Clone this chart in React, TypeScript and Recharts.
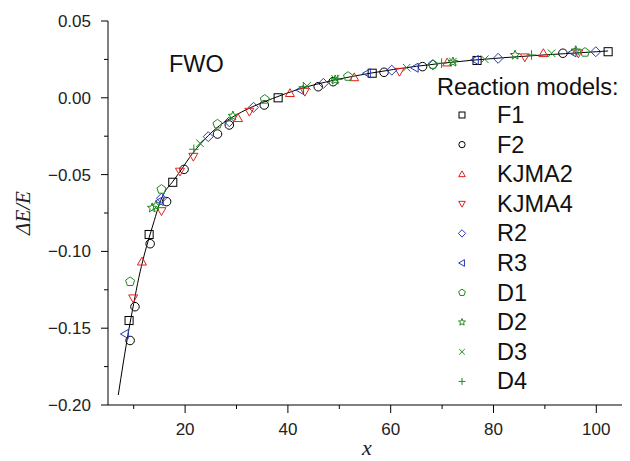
import React from 'react';
import { ComposedChart, Scatter, Line, XAxis, YAxis } from 'recharts';

// values
const FIT = [
  { x: 7.0, y: -0.1935 }, { x: 8.0, y: -0.172 }, { x: 9.0, y: -0.152 }, { x: 10.0, y: -0.134 },
  { x: 11.0, y: -0.117 }, { x: 12.0, y: -0.103 }, { x: 13.0, y: -0.091 }, { x: 14.0, y: -0.080 },
  { x: 15.0, y: -0.069 }, { x: 16.0, y: -0.0615 }, { x: 17.5, y: -0.055 }, { x: 19.0, y: -0.048 },
  { x: 21.5, y: -0.036 }, { x: 23.0, y: -0.030 }, { x: 26.0, y: -0.020 }, { x: 29.0, y: -0.013 },
  { x: 33.0, y: -0.006 }, { x: 37.0, y: -0.0005 }, { x: 42.0, y: 0.0055 }, { x: 49.0, y: 0.0115 },
  { x: 56.0, y: 0.016 }, { x: 65.0, y: 0.0205 }, { x: 76.0, y: 0.0245 }, { x: 88.0, y: 0.0275 },
  { x: 100.0, y: 0.030 }, { x: 102.3, y: 0.0305 },
];

const F1 = [
  { x: 9.1, y: -0.145 }, { x: 13.0, y: -0.089 }, { x: 17.6, y: -0.055 }, { x: 38.1, y: 0.0 },
  { x: 56.4, y: 0.016 }, { x: 76.8, y: 0.0243 }, { x: 102.3, y: 0.030 },
];
const F2 = [
  { x: 9.3, y: -0.158 }, { x: 10.25, y: -0.136 }, { x: 13.2, y: -0.095 }, { x: 16.4, y: -0.0676 },
  { x: 19.8, y: -0.0466 }, { x: 26.3, y: -0.0236 }, { x: 28.6, y: -0.0177 }, { x: 35.4, y: -0.0047 },
  { x: 45.9, y: 0.0072 }, { x: 48.8, y: 0.0105 }, { x: 58.7, y: 0.0166 }, { x: 66.2, y: 0.0203 },
  { x: 93.5, y: 0.029 },
];
const KJMA2 = [
  { x: 11.6, y: -0.1067 }, { x: 30.3, y: -0.0133 }, { x: 40.4, y: 0.003 }, { x: 52.9, y: 0.0133 },
  { x: 71.0, y: 0.0229 }, { x: 89.7, y: 0.029 },
];
const KJMA4 = [
  { x: 9.9, y: -0.1305 }, { x: 15.4, y: -0.0737 }, { x: 19.0, y: -0.048 }, { x: 21.6, y: -0.0383 },
  { x: 32.5, y: -0.009 }, { x: 43.3, y: 0.004 }, { x: 61.7, y: 0.017 }, { x: 86.1, y: 0.0264 },
  { x: 96.5, y: 0.029 },
];
const R2 = [
  { x: 15.4, y: -0.0654 }, { x: 24.5, y: -0.0253 }, { x: 28.6, y: -0.0156 }, { x: 33.3, y: -0.0062 },
  { x: 46.9, y: 0.0094 }, { x: 60.2, y: 0.018 }, { x: 68.2, y: 0.0214 }, { x: 80.9, y: 0.0257 },
  { x: 99.9, y: 0.030 },
];
const R3 = [
  { x: 8.3, y: -0.1538 }, { x: 15.1, y: -0.0672 }, { x: 42.4, y: 0.0051 }, { x: 55.4, y: 0.016 },
  { x: 64.7, y: 0.0196 }, { x: 76.4, y: 0.0246 }, { x: 95.4, y: 0.0296 },
];
const D1 = [
  { x: 9.3, y: -0.1197 }, { x: 15.4, y: -0.0596 }, { x: 26.3, y: -0.0171 }, { x: 35.5, y: -0.001 },
  { x: 51.7, y: 0.0139 }, { x: 68.2, y: 0.0217 }, { x: 97.8, y: 0.0296 },
];
const D2 = [
  { x: 13.6, y: -0.0717 }, { x: 14.3, y: -0.0704 }, { x: 29.3, y: -0.0118 }, { x: 49.2, y: 0.0116 },
  { x: 72.1, y: 0.0233 }, { x: 84.2, y: 0.0278 }, { x: 96.0, y: 0.0307 },
];
const D3 = [
  { x: 22.9, y: -0.0296 }, { x: 43.7, y: 0.0077 }, { x: 49.2, y: 0.0122 }, { x: 63.1, y: 0.0196 },
  { x: 72.1, y: 0.0236 }, { x: 78.3, y: 0.0251 }, { x: 91.3, y: 0.029 },
];
const D4 = [
  { x: 21.7, y: -0.0335 }, { x: 43.0, y: 0.0072 }, { x: 49.7, y: 0.012 }, { x: 69.9, y: 0.0225 },
  { x: 87.4, y: 0.0279 },
];

const X_TICKS = [10, 20, 30, 40, 50, 60, 70, 80, 90, 100];
const Y_TICKS = [-0.2, -0.175, -0.15, -0.125, -0.1, -0.075, -0.05, -0.025, 0, 0.025, 0.05];

const RED = '#e3211c';
const BLUE = '#2838b8';
const GREEN = '#1a8c1a';

const SERIES = [
  { name: 'F1', data: F1, kind: 'square', color: '#000' },
  { name: 'F2', data: F2, kind: 'circle', color: '#000' },
  { name: 'KJMA2', data: KJMA2, kind: 'up', color: RED },
  { name: 'KJMA4', data: KJMA4, kind: 'down', color: RED },
  { name: 'R2', data: R2, kind: 'diamond', color: BLUE },
  { name: 'R3', data: R3, kind: 'left', color: BLUE },
  { name: 'D1', data: D1, kind: 'pentagon', color: GREEN },
  { name: 'D2', data: D2, kind: 'star', color: GREEN },
  { name: 'D3', data: D3, kind: 'x', color: GREEN },
  { name: 'D4', data: D4, kind: 'plus', color: GREEN },
];

const PLOT_LEFT = 108;
const PLOT_TOP = 21;
const PLOT_BOTTOM = 405;
const FONT = '"Liberation Sans", Arial, sans-serif';
const SERIF = '"Liberation Serif", "Times New Roman", serif';

function polyAt(cx: number, cy: number, r: number, n: number, start: number, inner?: number) {
  const pts: string[] = [];
  const count = inner ? n * 2 : n;
  for (let i = 0; i < count; i++) {
    const a = ((start + (i * 360) / count) * Math.PI) / 180;
    const rr = inner && i % 2 === 1 ? inner : r;
    pts.push(`${(cx + rr * Math.cos(a)).toFixed(2)},${(cy + rr * Math.sin(a)).toFixed(2)}`);
  }
  return pts.join(' ');
}

function Marker({ kind, cx, cy, s, color }: { kind: string; cx: number; cy: number; s: number; color: string }) {
  const h = s / 2;
  const common = { fill: 'none', stroke: color, strokeWidth: 1 };
  switch (kind) {
    case 'square':
      return <rect x={cx - h * 0.85} y={cy - h * 0.85} width={s * 0.85} height={s * 0.85} {...common} />;
    case 'circle':
      return <circle cx={cx} cy={cy} r={h * 0.9} {...common} />;
    case 'up':
      return <polygon points={polyAt(cx, cy + h * 0.15, h * 1.1, 3, -90)} {...common} />;
    case 'down':
      return <polygon points={polyAt(cx, cy - h * 0.15, h * 1.1, 3, 90)} {...common} />;
    case 'left':
      return <polygon points={polyAt(cx + h * 0.15, cy, h * 1.1, 3, 180)} {...common} />;
    case 'diamond':
      return <polygon points={polyAt(cx, cy, h * 1.05, 4, -90)} {...common} />;
    case 'pentagon':
      return <polygon points={polyAt(cx, cy, h, 5, -90)} {...common} />;
    case 'star':
      return <polygon points={polyAt(cx, cy, h * 1.05, 5, -90, h * 0.45)} {...common} />;
    case 'x':
      return (
        <g {...common}>
          <line x1={cx - h * 0.8} y1={cy - h * 0.8} x2={cx + h * 0.8} y2={cy + h * 0.8} />
          <line x1={cx - h * 0.8} y1={cy + h * 0.8} x2={cx + h * 0.8} y2={cy - h * 0.8} />
        </g>
      );
    default:
      return (
        <g {...common}>
          <line x1={cx - h} y1={cy} x2={cx + h} y2={cy} />
          <line x1={cx} y1={cy - h} x2={cx} y2={cy + h} />
        </g>
      );
  }
}

const isMajorX = (v: number) => v % 20 === 0;
const isMajorY = (v: number) => Math.abs(Math.round(v / 0.05) * 0.05 - v) < 1e-9;

function BottomTick(props: any) {
  const { x, payload } = props;
  const v = payload.value;
  const major = isMajorX(v);
  return (
    <g>
      <line x1={x} y1={PLOT_BOTTOM} x2={x} y2={PLOT_BOTTOM + (major ? 8 : 4)} stroke="#000" />
      {major && (
        <text x={x} y={435} textAnchor="middle" fontSize={17} fontFamily={FONT} fill="#222">
          {v}
        </text>
      )}
    </g>
  );
}

function TopTick(props: any) {
  const { x, payload } = props;
  const major = isMajorX(payload.value);
  return <line x1={x} y1={PLOT_TOP} x2={x} y2={PLOT_TOP + (major ? 6 : 4)} stroke="#000" />;
}

function LeftTick(props: any) {
  const { y, payload } = props;
  const v = payload.value;
  const major = isMajorY(v);
  const label = Math.abs(v) < 1e-9 ? '0.00' : (v < 0 ? '\u2212' : '') + Math.abs(v).toFixed(2);
  return (
    <g>
      <line x1={PLOT_LEFT - (major ? 7 : 4)} y1={y} x2={PLOT_LEFT} y2={y} stroke="#000" />
      {major && (
        <text x={91} y={y + 6} textAnchor="end" fontSize={17} fontFamily={FONT} fill="#222">
          {label}
        </text>
      )}
    </g>
  );
}

function LegendBox() {
  return (
    <div style={{ position: 'absolute', left: 0, top: 0, width: 630, height: 461, pointerEvents: 'none' }}>
      <svg width={630} height={461} style={{ position: 'absolute', left: 0, top: 0 }}>
        <text x={437} y={95} fontSize={23.5} fontFamily={FONT} fill="#111">
          Reaction models:
        </text>
        {SERIES.map((s, i) => {
          const cy = 115 + i * 29.6;
          return (
            <g key={s.name}>
              <Marker kind={s.kind} cx={462} cy={cy} s={7} color={s.color} />
              <text x={497} y={cy + 8} fontSize={23.5} fontFamily={FONT} fill="#111">
                {s.name}
              </text>
            </g>
          );
        })}
        <text x={169} y={72} fontSize={23.5} fontFamily={FONT} fill="#111">
          FWO
        </text>
        <text
          x={0}
          y={0}
          transform="translate(30 213) rotate(-90)"
          textAnchor="middle"
          fontSize={21}
          fontStyle="italic"
          fontFamily={SERIF}
          fill="#222"
        >
          {'\u0394E/E'}
        </text>
        <text x={367} y={455} textAnchor="middle" fontSize={22} fontStyle="italic" fontFamily={SERIF} fill="#222">
          x
        </text>
      </svg>
    </div>
  );
}

export default function App() {
  return (
    <div style={{ position: 'absolute', left: 0, top: 0, width: 630, height: 461, background: '#fff' }}>
      <ComposedChart width={630} height={461} margin={{ top: 21, right: 8, bottom: 26, left: 48 }}>
        <XAxis
          xAxisId="bottom"
          type="number"
          dataKey="x"
          domain={[5, 105]}
          ticks={X_TICKS}
          interval={0}
          allowDataOverflow
          height={30}
          tickLine={false}
          axisLine={{ stroke: '#000' }}
          tick={<BottomTick />}
        />
        <XAxis
          xAxisId="top"
          orientation="top"
          type="number"
          dataKey="x"
          domain={[5, 105]}
          ticks={X_TICKS}
          interval={0}
          allowDataOverflow
          height={0}
          tickLine={false}
          axisLine={{ stroke: '#000' }}
          tick={<TopTick />}
        />
        <YAxis
          yAxisId="left"
          type="number"
          dataKey="y"
          domain={[-0.2, 0.05]}
          ticks={Y_TICKS}
          interval={0}
          allowDataOverflow
          width={60}
          tickLine={false}
          axisLine={{ stroke: '#000' }}
          tick={<LeftTick />}
        />
        <YAxis
          yAxisId="right"
          orientation="right"
          type="number"
          domain={[-0.2, 0.05]}
          allowDataOverflow
          width={0}
          tick={false}
          tickLine={false}
          axisLine={{ stroke: '#000' }}
        />
        <Line
          xAxisId="bottom"
          yAxisId="left"
          data={FIT}
          dataKey="y"
          type="monotone"
          stroke="#000"
          strokeWidth={1}
          dot={false}
          isAnimationActive={false}
        />
        {SERIES.map((s) => (
          <Scatter
            key={s.name}
            name={s.name}
            xAxisId="bottom"
            yAxisId="left"
            data={s.data}
            dataKey="y"
            isAnimationActive={false}
            shape={(p: any) => <Marker kind={s.kind} cx={p.cx} cy={p.cy} s={9.5} color={s.color} />}
          />
        ))}
      </ComposedChart>
      <LegendBox />
    </div>
  );
}
